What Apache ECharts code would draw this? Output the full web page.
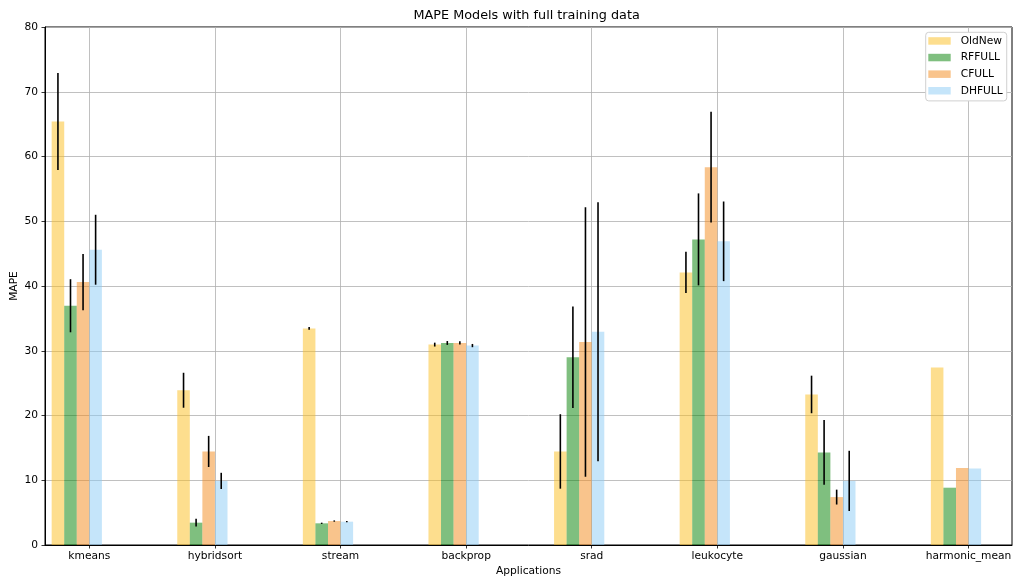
<!DOCTYPE html>
<html>
<head>
<meta charset="utf-8">
<script src="https://cdn.jsdelivr.net/npm/echarts@6/dist/echarts.min.js"></script>
<style>html,body{margin:0;padding:0;background:#fff}#c{width:1014px;height:579px}</style>
</head>
<body>
<div id="c"></div>
<script>
const categories = ['kmeans','hybridsort','stream','backprop','srad','leukocyte','gaussian','harmonic_mean'];
const seriesNames = ['OldNew','RFFULL','CFULL','DHFULL'];
const oldNew    = [65.4, 23.9, 33.45, 30.95, 14.45, 42.1, 23.25, 27.4];
const oldNewErr = [7.5, 2.7, 0.2, 0.3, 5.75, 3.2, 2.9, null];
const rfFull    = [36.95, 3.45, 3.35, 31.2, 29.0, 47.2, 14.3, 8.85];
const rfFullErr = [4.1, 0.6, 0.1, 0.3, 7.85, 7.1, 5.0, null];
const cFull     = [40.6, 14.45, 3.7, 31.2, 31.35, 58.35, 7.4, 11.9];
const cFullErr  = [4.35, 2.4, 0.1, 0.25, 20.8, 8.55, 1.15, null];
const dhFull    = [45.6, 9.9, 3.6, 30.8, 32.95, 46.9, 9.9, 11.8];
const dhFullErr = [5.4, 1.25, 0.1, 0.25, 20.0, 6.15, 4.65, null];
const barOffsets = [-0.25, -0.15, -0.05, 0.05];
const yTicks = [0,10,20,30,40,50,60,70,80];

const values = [oldNew, rfFull, cFull, dhFull];
const errors = [oldNewErr, rfFullErr, cFullErr, dhFullErr];
const colors = ['rgba(252,190,30,0.5)','rgba(0,128,0,0.5)','rgba(243,137,25,0.5)','rgba(139,203,245,0.5)'];
const FONT = 'DejaVu Sans';
const xMin = -0.353, xMax = 7.346;
const gridLeft = 45, gridRight = 2;
const pxPerUnit = (1014 - gridLeft - gridRight) / (xMax - xMin);

const series = [];
values.forEach((vals, s) => {
  series.push({
    name: seriesNames[s],
    type: 'bar',
    barWidth: pxPerUnit * 0.1,
    barGap: '-100%',
    itemStyle: { color: colors[s] },
    data: vals.map((v, i) => [i + barOffsets[s], v]),
    z: 2
  });
});
const errData = [];
values.forEach((vals, s) => {
  vals.forEach((v, i) => {
    const e = errors[s][i];
    if (e != null) errData.push([i + barOffsets[s], v, e]);
  });
});
series.push({
  name: 'err',
  type: 'custom',
  z: 5,
  silent: true,
  encode: { x: 0, y: 1 },
  data: errData,
  renderItem: function (params, api) {
    const x = api.value(0), v = api.value(1), e = api.value(2);
    const p1 = api.coord([x, v - e]);
    const p2 = api.coord([x, v + e]);
    return { type: 'line', shape: { x1: p1[0], y1: p1[1], x2: p2[0], y2: p2[1] },
      style: { stroke: '#000', lineWidth: 1.6 } };
  }
});

const chart = echarts.init(document.getElementById('c'), null, { renderer: 'canvas' });
chart.setOption({
  animation: false,
  backgroundColor: '#fff',
  textStyle: { fontFamily: FONT },
  title: {
    text: 'MAPE Models with full training data',
    left: 413.5, top: 9, padding: 0,
    textStyle: { fontFamily: FONT, fontSize: 12.8, fontWeight: 'normal', color: '#000' }
  },
  legend: {
    data: seriesNames,
    orient: 'vertical',
    left: 925.7, top: 32.3,
    padding: [3, 4, 4.5, 2.6],
    itemWidth: 22.4, itemHeight: 7.5, itemGap: 5.3,
    icon: 'rect',
    backgroundColor: '#fff',
    borderColor: '#d0d0d0', borderWidth: 1, borderRadius: 3,
    textStyle: { fontFamily: FONT, fontSize: 10.67, color: '#000', lineHeight: 11.3, padding: [0,0,0,5] }
  },
  grid: {
    left: gridLeft, right: gridRight, top: 27, bottom: 34,
    outerBoundsMode: 'none', containLabel: false,
    show: true, borderColor: '#000', borderWidth: 1, backgroundColor: 'transparent'
  },
  xAxis: {
    type: 'value',
    min: xMin, max: xMax,
    splitNumber: 7,
    name: 'Applications', nameLocation: 'middle', nameGap: 21, nameMoveOverlap: false,
    nameTextStyle: { fontFamily: FONT, fontSize: 10.67, color: '#000' },
    axisLine: { show: true, onZero: false, lineStyle: { color: '#000', width: 1 } },
    axisTick: { show: true, length: 3.5, lineStyle: { color: '#000', width: 0.8 },
      customValues: categories.map((c, i) => i) },
    axisLabel: { show: true, margin: 6, fontFamily: FONT, fontSize: 10.67, color: '#000',
      customValues: categories.map((c, i) => i),
      formatter: function (v) { const r = Math.round(v); return Math.abs(v - r) < 1e-6 && r >= 0 && r < categories.length ? categories[r] : ''; } },
    splitLine: { show: true, lineStyle: { color: '#b0b0b0', width: 0.8 } }
  },
  yAxis: {
    type: 'value',
    min: yTicks[0], max: yTicks[yTicks.length - 1], interval: 10,
    name: 'MAPE', nameLocation: 'middle', nameGap: 25, nameRotate: 90, nameMoveOverlap: false,
    nameTextStyle: { fontFamily: FONT, fontSize: 10.67, color: '#000' },
    axisLine: { show: true, onZero: false, lineStyle: { color: '#000', width: 1 } },
    axisTick: { show: true, length: 3.5, lineStyle: { color: '#000', width: 0.8 } },
    axisLabel: { margin: 7, fontFamily: FONT, fontSize: 10.67, color: '#000' },
    splitLine: { show: true, lineStyle: { color: '#b0b0b0', width: 0.8 } }
  },
  series: series
});
</script>
</body>
</html>
